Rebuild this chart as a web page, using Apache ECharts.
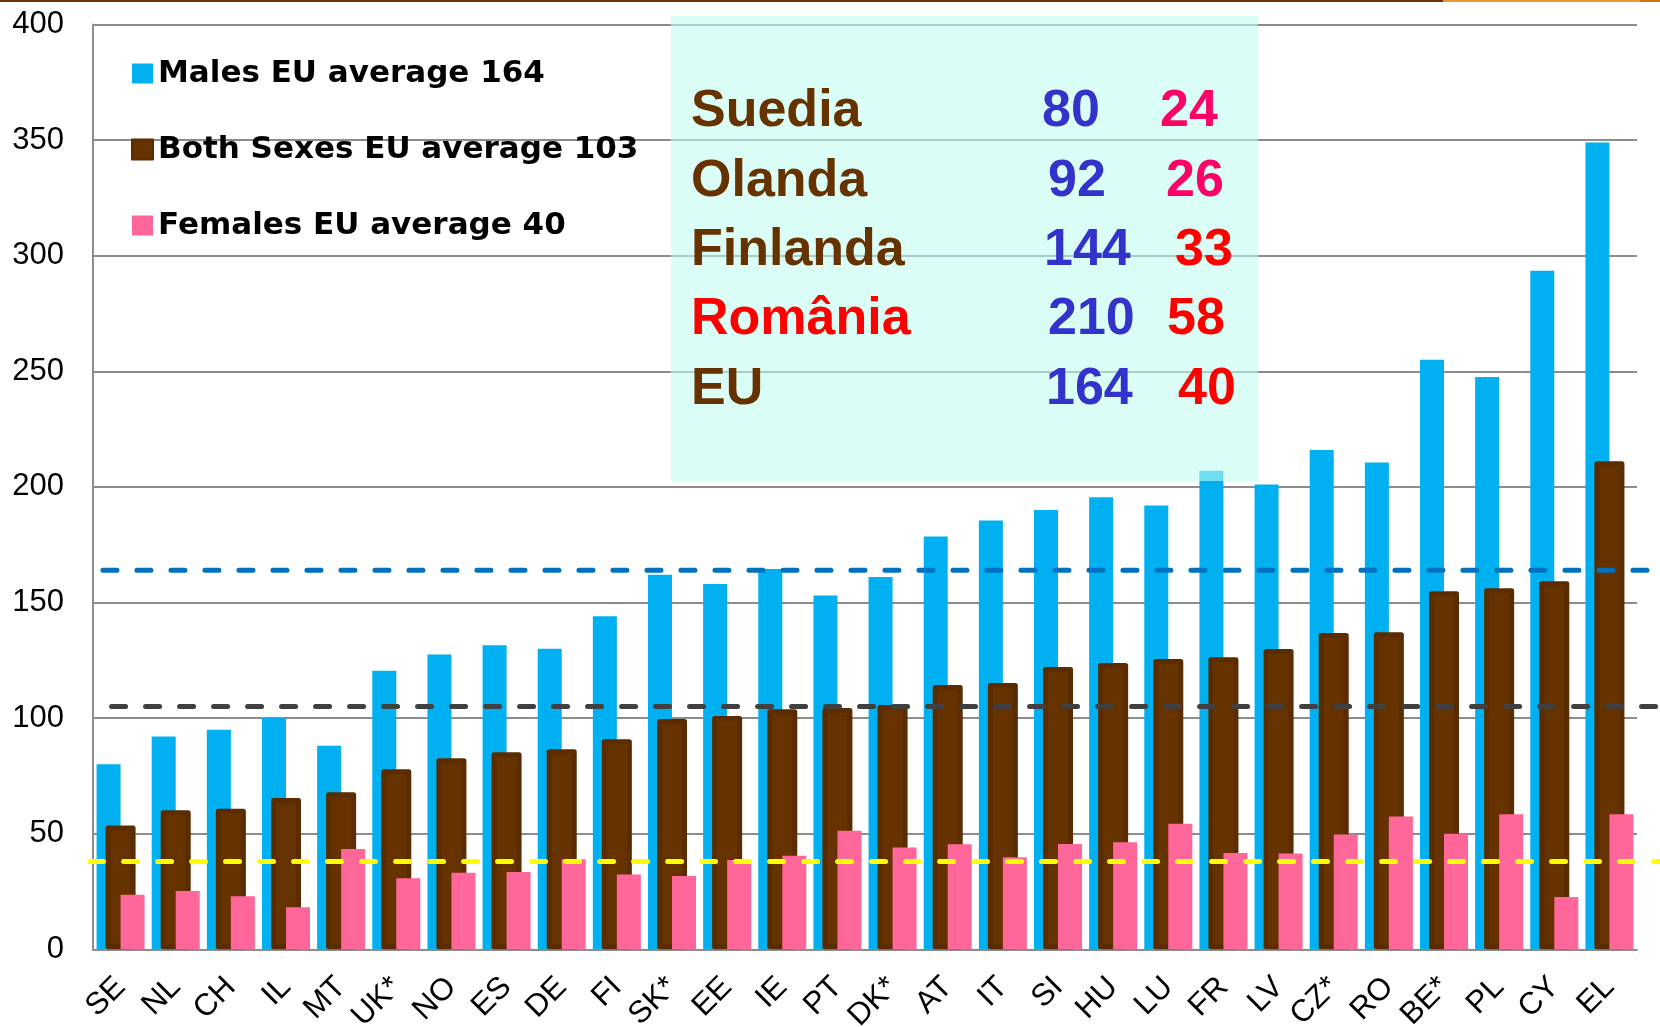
<!DOCTYPE html>
<html>
<head>
<meta charset="utf-8">
<script src="https://cdn.jsdelivr.net/npm/echarts@6/dist/echarts.min.js"></script>
<style>
    html, body { margin: 0; padding: 0; background: #fff; }
    #main { width: 1660px; height: 1027px; }
</style>
</head>
<body>
<div id="main"></div>
<script>
// ========== data ==========
var categories = ['SE', 'NL', 'CH', 'IL', 'MT', 'UK*', 'NO', 'ES', 'DE', 'FI', 'SK*', 'EE', 'IE', 'PT',
    'DK*', 'AT', 'IT', 'SI', 'HU', 'LU', 'FR', 'LV', 'CZ*', 'RO', 'BE*', 'PL', 'CY', 'EL'];
var males = [80, 92, 95, 100, 88, 120.5, 127.5, 131.5, 130, 144, 162, 158, 164.5, 153,
    161, 178.5, 185.5, 190, 195.5, 192, 207, 201, 216, 210.5, 255, 247.5, 293.5, 349];
var bothSexes = [53.6, 60.1, 60.8, 65.4, 67.9, 77.9, 82.6, 85.2, 86.5, 90.8, 99.6, 100.9, 103.8, 104.4,
    105.7, 114.3, 115.2, 122.1, 123.8, 125.6, 126.3, 129.9, 136.8, 137.1, 154.9, 156.2, 159.2, 211.1];
var females = [23.6, 25.2, 22.9, 18.2, 43.4, 30.7, 33.1, 33.4, 38.9, 32.4, 31.7, 38.6, 40.5, 51.3,
    44, 45.4, 39.8, 45.5, 46.3, 54.3, 41.7, 41.4, 49.7, 57.4, 50, 58.4, 22.6, 58.4];
var seriesNames = ['Males EU average 164', 'Both Sexes EU average 103', 'Females EU average 40'];
var avgLevels = [164, 105, 38];   // dashed reference lines: males, both, females
var yTicks = [0, 400, 50];        // min, max, interval

var boxNames = ['Suedia', 'Olanda', 'Finlanda', 'România', 'EU'];
var boxMales = ['80', '92', '144', '210', '164'];
var boxFemales = ['24', '26', '33', '58', '40'];

// ========== chart ==========
var chart = echarts.init(document.getElementById('main'));

var cBlue = '#00B0F0', cBrown = '#663300', cPink = '#FF6699';
var boxFont = 'bold 52px "Liberation Sans", Arial, sans-serif';
var nameColors = ['#663300', '#663300', '#663300', '#FF0000', '#663300'];
var femColors = ['#FF0066', '#FF0066', '#FF0000', '#FF0000', '#FF0000'];
var maleX = [1042, 1048, 1044, 1048, 1046];   // text box column offsets
var femX = [1160, 1166, 1175, 1167, 1178];

var boxGraphics = [];
boxGraphics.push({
    type: 'rect', z: 100, silent: true,
    shape: { x: 671, y: 16, width: 587, height: 465 },
    style: { fill: 'rgba(191,253,240,0.58)' }
});
for (var i = 0; i < boxNames.length; i++) {
    var cy = 112 + i * 69.3;
    boxGraphics.push({
        type: 'text', z: 101, silent: true, x: 691, y: cy,
        style: { text: boxNames[i], fill: nameColors[i], font: boxFont, verticalAlign: 'middle' }
    });
    boxGraphics.push({
        type: 'text', z: 101, silent: true, x: maleX[i], y: cy,
        style: { text: boxMales[i], fill: '#3333CC', font: boxFont, verticalAlign: 'middle' }
    });
    boxGraphics.push({
        type: 'text', z: 101, silent: true, x: femX[i], y: cy,
        style: { text: boxFemales[i], fill: femColors[i], font: boxFont, verticalAlign: 'middle' }
    });
}
// thin coloured rule along the top edge
boxGraphics.push({ type: 'rect', silent: true, shape: { x: 0, y: 0, width: 1443, height: 2 }, style: { fill: '#663300' } });
boxGraphics.push({ type: 'rect', silent: true, shape: { x: 1443, y: 0, width: 197, height: 2 }, style: { fill: '#E39A2E' } });
boxGraphics.push({ type: 'rect', silent: true, shape: { x: 1640, y: 0, width: 20, height: 2 }, style: { fill: '#D4700A' } });

function dashLine(level, start, color) {
    return {
        type: 'line', xAxisIndex: 1, yAxisIndex: 1, silent: true, symbol: 'none', z: 5,
        data: [[start, level], [1, level]],
        lineStyle: { color: color, width: 5, type: [14, 20], cap: 'round' }
    };
}

option = {
    animation: false,
    backgroundColor: '#fff',
    textStyle: { fontFamily: '"Liberation Sans", Arial, sans-serif' },
    legend: {
        data: seriesNames,
        orient: 'vertical',
        left: 131,
        top: 58,
        padding: 0,
        itemGap: 45,
        itemWidth: 21,
        itemHeight: 20,
        icon: 'rect',
        selectedMode: false,
        textStyle: { fontSize: 31, fontWeight: 'bold', color: '#000', fontFamily: '"DejaVu Sans", sans-serif' }
    },
    grid: [
        { left: 93, right: 23, top: 24.5, bottom: 77.7, outerBoundsMode: 'none' },
        { left: 88, right: 0, top: 24.5, bottom: 77.7, outerBoundsMode: 'none' }
    ],
    xAxis: [
        {
            type: 'category',
            data: categories,
            gridIndex: 0,
            axisTick: { show: false },
            axisLine: { show: true, lineStyle: { color: '#8c8c8c', width: 2 } },
            axisLabel: { rotate: 45, margin: 33, fontSize: 31, color: '#000', interval: 0 }
        },
        { type: 'value', gridIndex: 1, min: 0, max: 1, show: false },
        // hidden twin axis so the wider brown bar sits centred on each category
        { type: 'category', data: categories, gridIndex: 0, show: false }
    ],
    yAxis: [
        {
            type: 'value',
            gridIndex: 0,
            min: yTicks[0],
            max: yTicks[1],
            interval: yTicks[2],
            axisTick: { show: false },
            axisLine: { show: true, lineStyle: { color: '#8c8c8c', width: 2 } },
            axisLabel: { fontSize: 31, color: '#000', margin: 29 },
            splitLine: { show: true, lineStyle: { color: '#8c8c8c', width: 2 } }
        },
        { type: 'value', gridIndex: 1, min: yTicks[0], max: yTicks[1], show: false }
    ],
    series: [
        {
            name: seriesNames[0], type: 'bar', barWidth: 24, barGap: '0%',
            itemStyle: { color: cBlue },
            data: males
        },
        {
            name: seriesNames[1], type: 'bar', barWidth: 30, xAxisIndex: 2,
            itemStyle: { color: cBrown, borderColor: '#5A2C00', borderWidth: 5, borderJoin: 'round' },
            data: bothSexes
        },
        {
            name: seriesNames[2], type: 'bar', barWidth: 24, barGap: '0%',
            itemStyle: { color: cPink },
            data: females
        },
        dashLine(avgLevels[0], 0.0095, '#0070C0'),
        dashLine(avgLevels[1], 0.015, '#404040'),
        dashLine(avgLevels[2], 0.001, '#FFFF00')
    ],
    graphic: boxGraphics
};
chart.setOption(option);
</script>
</body>
</html>
